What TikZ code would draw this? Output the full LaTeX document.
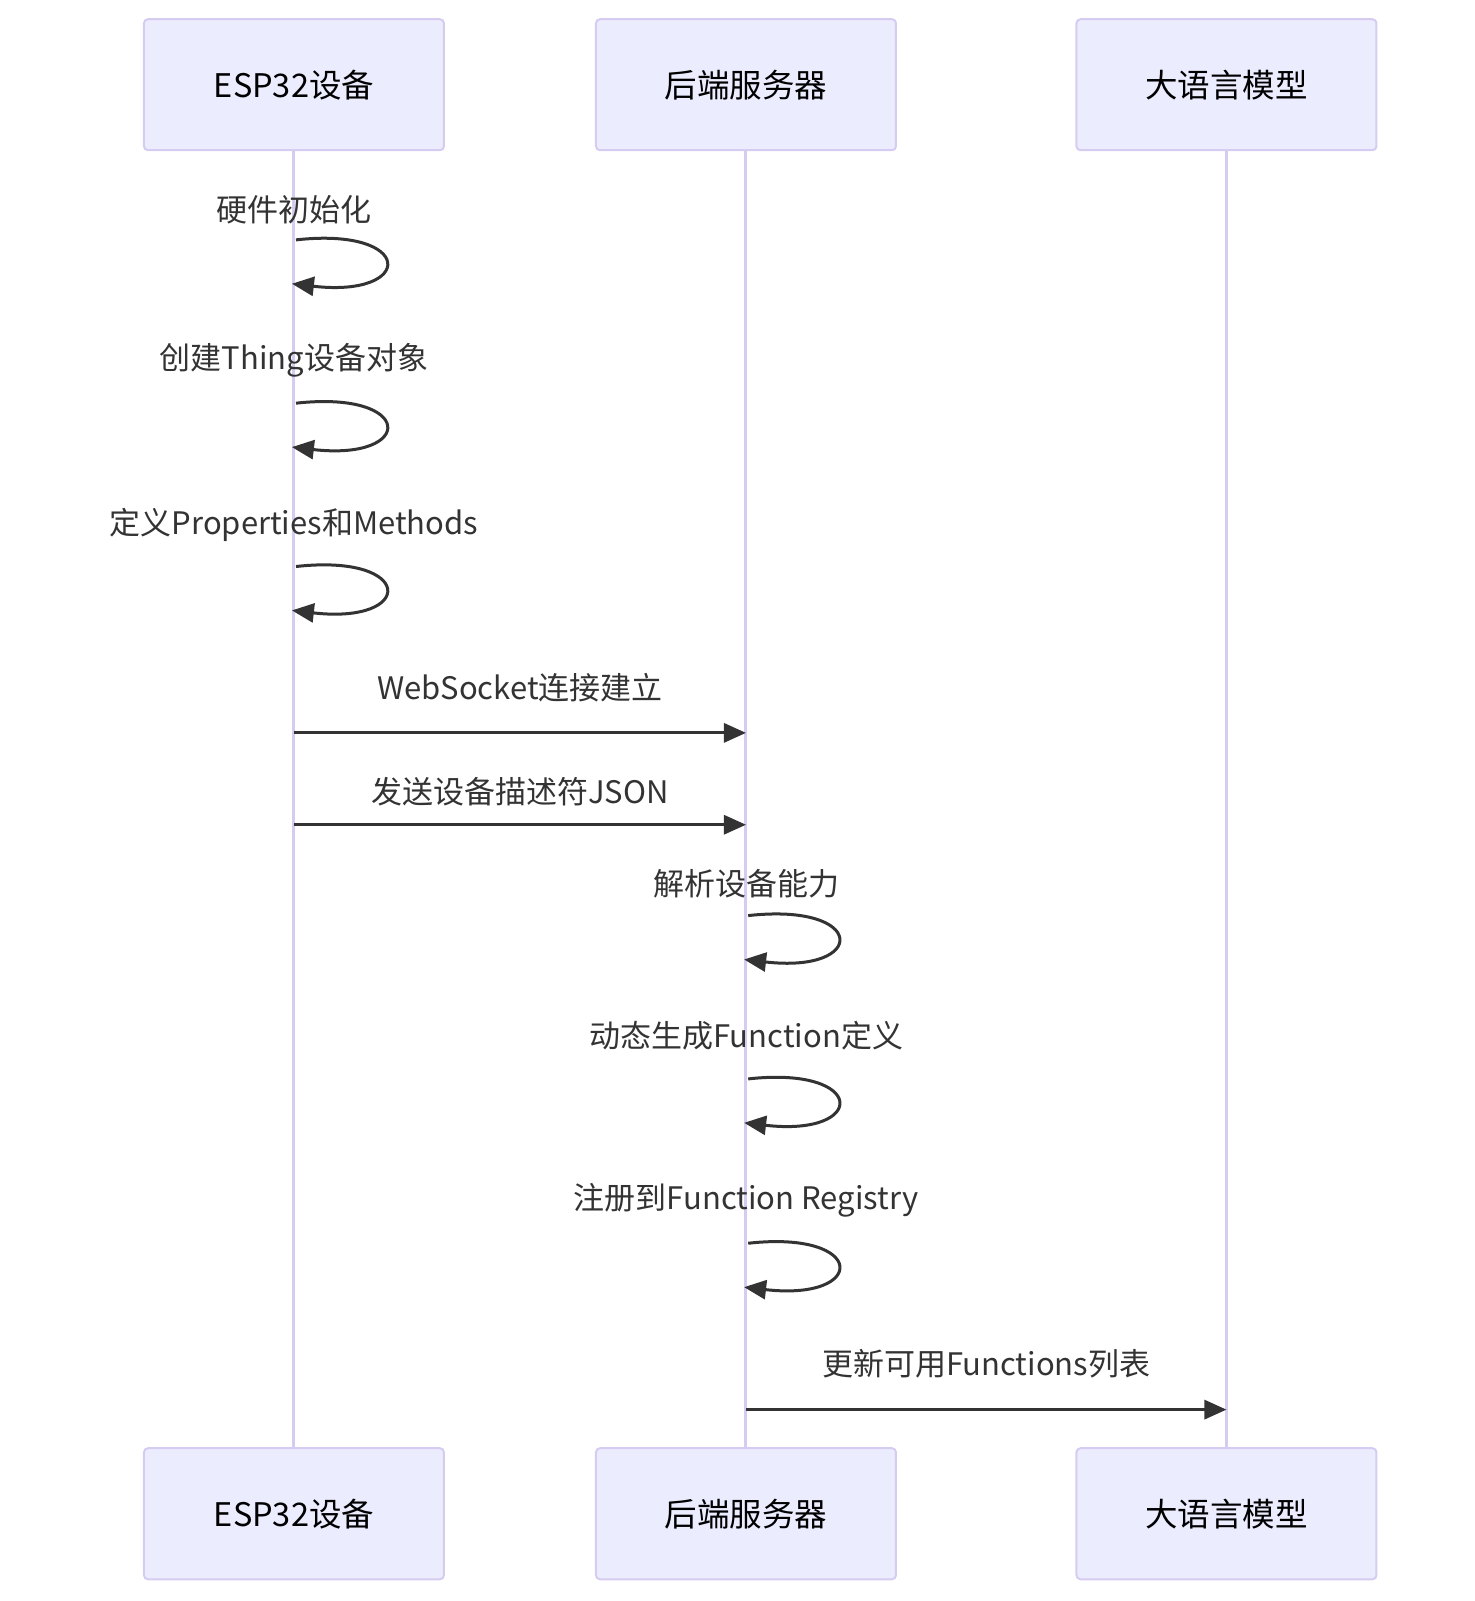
\documentclass[tikz,border=0pt]{standalone}
\usepackage{fontspec}
\setmainfont{Noto Sans CJK SC}
\usetikzlibrary{positioning,arrows.meta}
\definecolor{actorfill}{HTML}{ECECFF}
\definecolor{actorline}{HTML}{D6CCF2}
\definecolor{msgline}{HTML}{333333}
\begin{document}
\begin{tikzpicture}[
  x=1.0207pt, y=-1.0207pt,
  actor/.style={rectangle, draw=actorline, fill=actorfill, line width=2pt, rounded corners=4pt,
    minimum width=300pt, minimum height=131pt, inner sep=0pt, font=\fontsize{32.5}{38}\selectfont},
  lifeline/.style={draw=actorline, line width=3pt},
  msg/.style={draw=msgline, line width=3pt, -{Triangle[length=22pt,width=19pt]}},
  msgtext/.style={inner sep=0pt, text=msgline, font=\fontsize{31}{37}\selectfont}
]
\useasboundingbox (0,0) rectangle (1445,1568.5);

% actors, top and bottom
\node[actor] (esp) at (288,83) {ESP32设备};
\node[actor, right=150pt of esp] (srv) {后端服务器};
\node[actor, right=178.5pt of srv] (llm) {大语言模型};
\node[actor] (espB) at (288,1483) {ESP32设备};
\node[actor, right=150pt of espB] (srvB) {后端服务器};
\node[actor, right=178.5pt of srvB] (llmB) {大语言模型};

\draw[lifeline] (esp) -- (espB);
\draw[lifeline] (srv) -- (srvB);
\draw[lifeline] (llm) -- (llmB);

% ESP32 side
\node[msgtext] (init) at (288,205) {硬件初始化};
\draw[msg] (290,235) .. controls (407,222) and (407,292) .. (286,278);
\node[msgtext] (thing) at (288,353) {创建Thing设备对象};
\draw[msg] (290,395) .. controls (407,382) and (407,452) .. (286,438);
\node[msgtext] (props) at (288,514) {定义Properties和Methods};
\draw[msg] (290,555) .. controls (407,542) and (407,612) .. (286,598);

\draw[msg] (esp.south |- 0,718) -- (srv.south |- 0,718)
  node[msgtext, midway, yshift=45pt] (ws) {WebSocket连接建立};
\draw[msg] (esp.south |- 0,808) -- (srv.south |- 0,808)
  node[msgtext, midway, yshift=33pt] (json) {发送设备描述符JSON};

% server side
\node[msgtext] (parse) at (731,866) {解析设备能力};
\draw[msg] (733,897) .. controls (850,884) and (850,954) .. (729,940);
\node[msgtext] (gen) at (731,1015) {动态生成Function定义};
\draw[msg] (733,1057) .. controls (850,1044) and (850,1114) .. (729,1100);
\node[msgtext] (reg) at (731,1176) {注册到Function Registry};
\draw[msg] (733,1218) .. controls (850,1205) and (850,1275) .. (729,1261);

\draw[msg] (srv.south |- 0,1381) -- (llm.south |- 0,1381)
  node[msgtext, midway, yshift=46pt] (upd) {更新可用Functions列表};
\end{tikzpicture}
\end{document}
